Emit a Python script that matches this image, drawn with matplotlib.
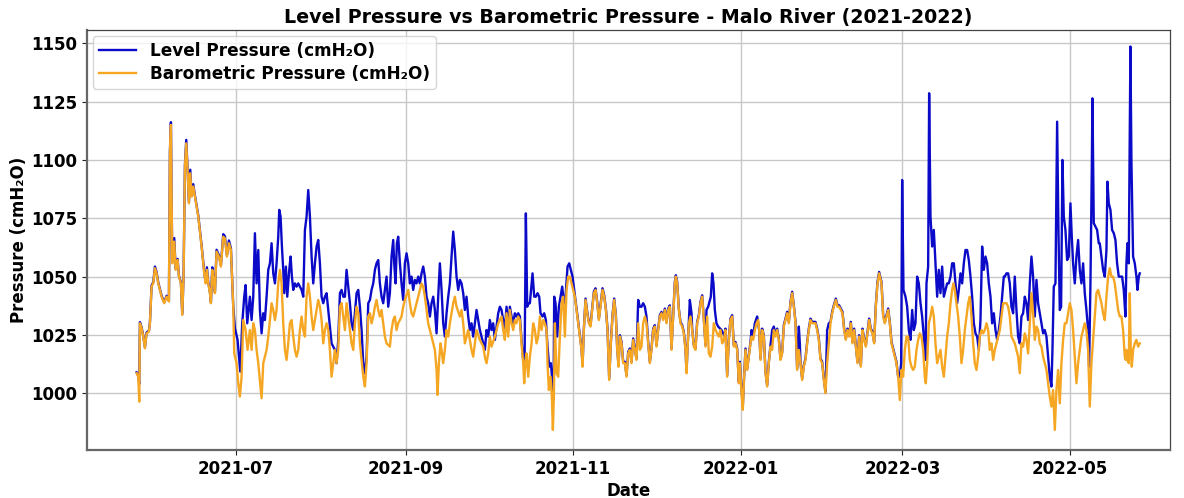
import matplotlib
matplotlib.use("Agg")
import matplotlib.pyplot as plt
import matplotlib.dates as mdates
import pandas as pd

# Days are counted from 2021-07-01; values are pressures in cmH2O.
START = pd.Timestamp("2021-07-01")

baro_days = [
    -36.04, -35.43, -35.07, -34.83, -34.22, -33.61, -33.00, -32.40, -31.55, -31.18,
    -30.58, -29.97, -29.36, -28.75, -28.15, -26.93, -25.96, -25.11, -24.26, -23.90,
    -23.53, -23.05, -22.32, -21.83, -21.10, -20.62, -19.89, -19.40, -18.92, -18.43,
    -17.95, -17.46, -16.97, -16.49, -16.00, -15.39, -14.79, -13.57, -12.36, -11.39,
    -10.90, -10.42, -9.93, -9.32, -8.96, -8.47, -7.99, -7.50, -6.90, -6.05,
    -5.32, -4.47, -3.86, -3.13, -2.40, -1.67, -0.82, -0.46, 0.39, 1.00,
    1.60, 2.21, 2.82, 3.67, 4.40,
    5.25, 5.86, 6.46, 7.07, 7.68, 8.29, 8.89, 9.50, 10.11, 10.71,
    11.32, 11.93, 12.54, 13.14, 13.75, 14.36, 14.96, 15.57, 16.18, 16.78,
    17.39, 18.00, 18.60, 19.21, 19.82, 20.43, 21.04, 21.64, 22.25, 22.86,
    23.46, 24.07, 24.68, 25.29, 25.89, 26.50, 27.11, 27.72, 28.32, 28.93,
    29.54, 30.14, 30.75, 31.36, 31.97, 32.57, 33.18, 33.79, 34.39, 35.00,
    35.61, 36.22, 36.82, 37.43, 38.04, 38.64, 39.25, 39.86, 40.46, 41.07,
    41.68, 42.29, 42.89, 43.50, 44.11, 44.72, 45.32, 45.93, 46.54, 47.14,
    47.75, 48.36, 48.97, 49.57, 50.18,
    50.78, 51.39, 51.99, 52.60, 53.21, 53.82, 54.42, 55.03, 56.24, 56.85,
    57.46, 58.07, 58.67, 59.28, 60.49, 61.10, 61.71, 62.92, 63.53, 64.14,
    64.74, 65.96, 67.17, 67.78, 68.39, 69.00, 69.60, 70.21, 71.42, 72.64,
    73.25, 73.61, 74.10, 74.70, 75.07, 75.67, 76.28, 76.89, 77.50, 78.10,
    79.32, 79.92, 80.53, 81.75, 82.35, 82.96, 83.57, 84.78, 86.00, 86.60,
    87.21, 87.82, 89.03, 90.25, 90.85, 91.46, 92.07, 92.67, 93.28, 94.50,
    95.71, 96.92,
    97.53, 98.14, 98.75, 99.36, 99.96, 100.57, 101.18, 101.78, 102.39, 103.00,
    103.61, 104.21, 104.82, 105.18, 105.67, 106.03, 106.64, 107.25, 107.86, 108.46,
    109.07, 109.68, 110.28, 110.89, 111.50, 112.11, 112.71, 113.32, 113.68, 114.17,
    114.78, 115.26, 115.63, 115.99, 116.36, 116.96, 117.57, 118.18, 118.79, 119.39,
    120.00, 120.61, 121.21, 121.82, 122.43, 123.04, 123.64, 124.25, 124.86, 125.46,
    126.07, 126.44, 126.92, 127.53, 128.14, 128.74, 129.35, 129.96, 130.56, 131.17,
    131.78, 132.39, 132.99, 133.72, 134.33, 134.94, 135.54, 136.15, 136.76, 137.36,
    137.97, 138.58, 139.07, 139.55, 140.04, 140.64, 141.25, 141.86,
    142.46, 143.06, 143.67, 144.28, 144.89, 145.49, 146.10, 146.71, 147.31, 147.92,
    148.53, 149.14, 149.74, 150.35, 150.96, 151.56, 152.17, 152.78, 153.39, 153.99,
    154.60, 155.21, 155.81, 156.42, 157.03, 157.64, 158.24, 158.85, 159.46, 160.07,
    160.43, 160.92, 161.52, 162.13, 162.74, 163.34, 163.95, 164.32, 164.68, 165.17,
    165.77, 166.38, 166.99, 167.59, 168.20, 168.81, 169.42, 170.02, 170.63, 171.24,
    171.84, 172.45, 173.06, 173.67, 174.27, 174.88, 175.49, 176.09, 176.70, 177.31,
    177.92, 178.52, 179.13, 179.74, 180.34, 180.95, 181.56, 182.17, 182.77, 183.38,
    183.74, 184.35, 184.84, 185.32, 185.81, 186.42, 187.02, 187.63,
    188.00, 188.60, 189.21, 189.82, 190.43, 190.79, 191.28, 191.88, 192.49, 193.10,
    193.70, 194.31, 194.92, 195.53, 196.13, 196.74, 197.35, 197.95, 198.56, 199.17,
    199.78, 200.38, 200.99, 201.60, 202.20, 202.81, 203.42, 204.03, 204.63, 205.24,
    205.85, 206.45, 207.06, 207.67, 208.28, 208.88, 209.49, 210.10, 210.70, 211.31,
    211.92, 212.53, 213.13, 213.74, 214.35, 214.95, 215.56, 216.17, 216.78, 217.38,
    217.99, 218.72, 219.33, 219.93, 220.54, 221.15, 221.75, 222.36, 222.97, 223.58,
    224.18, 224.79, 225.40, 226.00, 226.61, 227.22, 227.83, 228.43, 229.04, 229.65,
    230.26, 230.86, 231.47, 232.08, 232.68, 233.29, 233.90, 234.50,
    235.36, 235.97, 236.57, 237.18, 237.79, 238.39, 239.00, 239.61, 240.22, 240.82,
    241.43, 242.04, 242.64, 243.25, 243.86, 244.47, 245.07, 245.68, 246.29, 246.89,
    247.50, 248.11, 248.72, 249.32, 249.93, 250.54, 251.14, 251.51, 252.00, 252.60,
    253.21, 253.82, 254.42, 255.03, 255.64, 256.25, 256.85, 257.46, 258.07, 258.67,
    259.28, 259.89, 260.50, 261.10, 261.59, 262.07, 262.68, 263.29, 263.90, 264.50,
    265.11, 265.72, 266.32, 266.93, 267.54, 268.15, 268.75, 269.36, 269.97, 270.57,
    271.18, 271.79, 272.40, 273.00, 273.61, 274.22, 274.82, 275.43, 276.04, 276.65,
    277.25, 277.86, 278.47, 279.07, 279.68,
    280.89, 281.50, 282.10, 282.71, 283.32, 283.92, 284.53, 285.14, 285.75, 286.35,
    286.96, 287.57, 288.17, 288.78, 289.39, 290.00, 290.60, 291.21, 291.82, 292.42,
    293.03, 293.64, 294.25, 294.85, 295.46, 296.07, 296.67, 297.28, 297.89, 298.50,
    299.10, 299.71, 300.32, 300.92, 301.53, 302.14, 302.75, 303.35, 303.96, 304.57,
    305.17, 305.78, 306.39, 307.00, 307.60, 308.21, 308.82, 309.42, 310.03, 310.64,
    311.25, 311.85, 312.46, 313.07, 313.68, 314.28,
    314.89, 315.50, 316.10, 316.71, 317.32, 317.93, 318.53, 319.14, 319.75, 320.35,
    320.96, 321.57, 322.18, 322.78, 323.39, 324.00, 324.36, 324.60, 324.97, 325.45,
    325.82, 326.18, 326.55, 327.03, 327.64, 328.25, 328.85, 329.46,
]

baro_cmh2o = [
    1008.6, 1007.1, 996.4, 1030.0, 1027.9, 1024.3, 1019.3, 1025.7, 1026.4, 1030.0,
    1045.7, 1047.1, 1053.6, 1051.4, 1047.1, 1041.4, 1038.6, 1041.4, 1039.3, 1102.9,
    1115.0, 1055.7, 1065.0, 1052.9, 1057.1, 1050.0, 1047.1, 1033.6, 1050.0, 1097.1,
    1107.1, 1095.7, 1081.4, 1094.3, 1084.3, 1088.6, 1084.3, 1075.7, 1062.9, 1051.4,
    1047.1, 1052.9, 1047.1, 1042.9, 1038.6, 1052.9, 1048.6, 1042.9, 1060.7, 1058.6,
    1054.3, 1067.1, 1066.4, 1058.6, 1064.3, 1061.4, 1037.1, 1017.1, 1012.9, 1004.3,
    998.6, 1007.1, 1031.4, 1027.1, 1018.6,
    1027.1, 1018.6, 1030.0, 1027.1, 1018.6, 1012.9, 1005.7, 997.9, 1012.9, 1015.7,
    1018.6, 1024.3, 1031.4, 1038.6, 1035.7, 1031.4, 1035.7, 1047.1, 1052.9, 1047.1,
    1030.0, 1018.6, 1014.3, 1021.4, 1030.0, 1031.4, 1024.3, 1018.6, 1015.7, 1018.6,
    1027.1, 1032.9, 1027.1, 1024.3, 1041.4, 1047.1, 1041.4, 1032.9, 1027.1, 1031.4,
    1035.7, 1040.0, 1037.1, 1031.4, 1021.4, 1027.1, 1030.0, 1027.1, 1018.6, 1007.1,
    1012.9, 1018.6, 1012.9, 1018.6, 1037.1, 1038.6, 1032.9, 1027.1, 1038.6, 1032.9,
    1027.1, 1021.4, 1018.6, 1030.0, 1037.1, 1034.3, 1021.4, 1014.3, 1007.1, 1002.9,
    1012.9, 1032.9, 1034.3, 1030.0, 1032.9,
    1037.1, 1040.0, 1035.7, 1032.9, 1035.7, 1030.0, 1024.3, 1021.4, 1020.0, 1027.1,
    1031.4, 1032.9, 1027.1, 1030.0, 1032.9, 1037.1, 1040.0, 1044.3, 1038.6, 1034.3,
    1032.9, 1038.6, 1044.3, 1047.1, 1045.7, 1041.4, 1035.7, 1030.0, 1024.3, 1018.6,
    1010.0, 999.3, 1012.9, 1021.4, 1018.6, 1012.9, 1018.6, 1027.1, 1024.3, 1030.0,
    1038.6, 1041.4, 1037.1, 1032.9, 1035.7, 1030.0, 1021.4, 1027.1, 1018.6, 1015.7,
    1021.4, 1027.1, 1022.9, 1020.0, 1015.7, 1012.9, 1017.1, 1024.3, 1020.0, 1024.3,
    1030.0, 1032.9,
    1027.1, 1022.9, 1034.3, 1024.3, 1035.7, 1030.0, 1027.1, 1031.4, 1030.0, 1032.9,
    1031.4, 1021.4, 1012.9, 1004.3, 1014.3, 1017.1, 1007.1, 1015.7, 1021.4, 1030.0,
    1027.1, 1021.4, 1024.3, 1032.9, 1027.1, 1031.4, 1030.0, 1027.1, 1012.9, 1001.4,
    1007.1, 998.6, 984.3, 998.6, 1030.0, 1008.6, 1007.1, 1024.3, 1038.6, 1041.4,
    1024.3, 1044.3, 1050.0, 1050.0, 1047.1, 1044.3, 1041.4, 1035.7, 1030.0, 1024.3,
    1018.6, 1011.4, 1027.1, 1040.0, 1034.3, 1030.0, 1028.6, 1035.7, 1042.9, 1044.3,
    1038.6, 1031.4, 1037.1, 1044.3, 1041.4, 1035.7, 1027.1, 1005.7, 1021.4, 1032.9,
    1040.0, 1032.9, 1018.6, 1011.4, 1024.3, 1021.4, 1012.9, 1012.9,
    1007.1, 1017.1, 1018.6, 1012.9, 1022.9, 1018.6, 1014.3, 1030.0, 1018.6, 1020.0,
    1030.0, 1032.9, 1030.0, 1021.4, 1012.9, 1018.6, 1027.1, 1028.6, 1020.0, 1027.1,
    1032.9, 1034.3, 1031.4, 1035.7, 1030.0, 1035.7, 1037.1, 1018.6, 1032.9, 1047.1,
    1050.0, 1047.1, 1035.7, 1030.0, 1028.6, 1025.7, 1018.6, 1008.6, 1018.6, 1030.0,
    1032.9, 1027.1, 1020.0, 1018.6, 1030.0, 1032.9, 1038.6, 1041.4, 1031.4, 1020.0,
    1032.9, 1017.1, 1015.7, 1020.0, 1030.0, 1027.1, 1025.7, 1024.3, 1027.1, 1021.4,
    1022.9, 1027.1, 1007.1, 1022.9, 1031.4, 1032.9, 1020.0, 1021.4, 1018.6, 1004.3,
    1012.9, 1000.0, 992.9, 1007.1, 1018.6, 1010.0, 1015.7, 1021.4,
    1024.3, 1022.9, 1027.1, 1030.0, 1031.4, 1027.1, 1014.3, 1027.1, 1024.3, 1008.6,
    1002.9, 1012.9, 1020.0, 1018.6, 1027.1, 1024.3, 1027.1, 1022.9, 1014.3, 1017.1,
    1028.6, 1031.4, 1034.3, 1030.0, 1038.6, 1042.9, 1037.1, 1030.0, 1010.0, 1018.6,
    1012.9, 1005.7, 1011.4, 1014.3, 1021.4, 1027.1, 1031.4, 1030.0, 1030.0, 1030.0,
    1027.1, 1022.9, 1014.3, 1012.9, 1005.7, 1000.0, 1012.9, 1021.4, 1030.0, 1034.3,
    1037.1, 1040.0, 1037.1, 1037.1, 1035.7, 1034.3, 1027.1, 1022.9, 1027.1, 1024.3,
    1030.0, 1021.4, 1027.1, 1020.0, 1012.9, 1024.3, 1011.4, 1027.1, 1022.9, 1020.0,
    1025.7, 1031.4, 1027.1, 1025.7, 1021.4, 1037.1, 1047.1, 1051.4,
    1047.1, 1032.9, 1030.0, 1032.9, 1035.7, 1030.0, 1021.4, 1018.6, 1015.7, 1012.9,
    1007.1, 997.1, 1010.0, 1007.1, 1018.6, 1024.3, 1024.3, 1014.3, 1011.4, 1010.0,
    1011.4, 1018.6, 1022.9, 1025.7, 1024.3, 1018.6, 1007.1, 1004.3, 1012.9, 1030.0,
    1032.9, 1037.1, 1032.9, 1021.4, 1012.9, 1015.7, 1018.6, 1011.4, 1007.1, 1015.7,
    1024.3, 1030.0, 1038.6, 1044.3, 1047.1, 1044.3, 1038.6, 1032.9, 1024.3, 1012.9,
    1018.6, 1027.1, 1032.9, 1038.6, 1041.4, 1032.9, 1021.4, 1012.9, 1010.0, 1015.7,
    1024.3, 1027.1, 1025.7, 1027.1, 1030.0, 1027.1, 1018.6, 1021.4, 1014.3, 1018.6,
    1021.4, 1024.3, 1027.1, 1032.9, 1038.6,
    1038.6, 1037.1, 1032.9, 1024.3, 1022.9, 1021.4, 1018.6, 1015.7, 1008.6, 1021.4,
    1020.0, 1025.7, 1022.9, 1017.1, 1030.0, 1042.9, 1034.3, 1022.9, 1028.6, 1027.1,
    1021.4, 1020.0, 1015.7, 1012.9, 1010.0, 1004.3, 998.6, 994.3, 1001.4, 984.3,
    1001.4, 1010.0, 995.7, 1012.9, 1022.9, 1030.0, 1030.0, 1034.3, 1038.6, 1035.7,
    1027.1, 1015.7, 1004.3, 1012.9, 1018.6, 1024.3, 1027.1, 1030.0, 1027.1, 1018.6,
    994.3, 1012.9, 1022.9, 1032.9, 1042.9, 1044.3,
    1041.4, 1038.6, 1034.3, 1031.4, 1041.4, 1050.0, 1053.6, 1050.0, 1050.0, 1047.1,
    1041.4, 1035.7, 1032.9, 1032.9, 1027.1, 1015.7, 1014.3, 1018.6, 1014.3, 1012.9,
    1042.9, 1018.6, 1011.4, 1018.6, 1021.4, 1022.9, 1020.0, 1021.4,
]

level_days = [
    -36.04, -35.43, -35.07, -34.83, -34.22, -33.61, -33.00, -32.40, -31.55, -31.18,
    -30.58, -29.97, -29.36, -28.75, -28.15, -26.93, -25.96, -25.11, -24.26, -23.90,
    -23.53, -23.05, -22.32, -21.83, -21.10, -20.62, -19.89, -19.40, -18.92, -18.43,
    -17.95, -17.46, -16.97, -16.49, -16.00, -15.39, -14.79, -13.57, -12.36, -11.39,
    -10.90, -10.42, -9.93, -9.32, -8.96, -8.47, -7.99, -7.50, -6.90, -6.05,
    -5.32, -4.47, -3.86, -3.13, -2.40, -1.67, -0.82, -0.22, 0.75, 1.73,
    2.45, 3.18, 3.67, 4.27,
    5.25, 5.86, 6.46, 7.07, 7.68, 8.29, 8.89, 9.50, 10.11, 10.71,
    11.32, 11.93, 12.54, 13.14, 13.75, 14.36, 14.96, 15.57, 15.94, 16.42,
    16.91, 17.39, 17.76, 18.36, 18.85, 19.58, 20.07, 20.55, 21.04, 21.64,
    22.25, 22.86, 23.46, 24.07, 24.68, 25.29, 25.89, 26.50, 27.11, 27.72,
    28.32, 28.93, 29.54, 30.14, 30.75, 31.36, 31.97, 32.57, 33.18, 33.79,
    34.39, 35.00, 35.61, 36.22, 36.82, 37.43, 38.04, 38.64, 39.25, 39.86,
    40.46, 41.07, 41.68, 42.29, 42.89, 43.50, 44.11, 44.72, 45.32, 45.93,
    46.54, 47.14, 47.75, 48.36, 48.97, 49.57, 50.18, 50.79, 51.39, 52.00,
    52.60, 53.21, 53.82, 54.42, 55.03, 55.64, 56.24, 56.85, 57.46, 57.82,
    58.31, 58.79, 59.28, 59.89, 60.49, 61.10, 61.71, 62.32, 62.92, 63.53,
    64.14, 64.74, 65.35, 65.96, 66.57, 67.17, 67.78, 68.39, 69.00, 69.60,
    70.21, 70.82, 71.42, 72.03, 72.64, 73.25, 73.85, 74.46, 75.07, 75.67,
    76.28, 76.89, 77.50, 78.10, 78.71, 79.32, 79.92, 80.53, 81.14, 81.75,
    82.35, 82.96, 83.57, 84.17, 84.78, 85.39, 86.00, 86.60, 87.21, 87.82,
    88.42, 89.03, 89.64, 90.25, 90.85, 91.46, 92.07, 92.67, 93.28, 93.89,
    94.50, 95.10, 95.71, 96.32, 96.92,
    97.53, 98.14, 98.75, 99.36, 99.96, 100.57, 101.18, 101.78, 102.39, 103.00,
    103.61, 104.21, 104.82, 105.31, 105.79, 106.28, 106.76, 107.25, 108.22, 108.83,
    109.44, 110.04, 110.65, 111.13, 111.86, 112.47, 113.08, 113.68, 114.29, 114.90,
    115.51, 115.87, 116.11, 116.60, 117.21, 117.81, 118.42, 119.03, 119.64, 120.24,
    120.97, 121.58, 122.19, 122.79, 123.40,
    123.64, 124.25, 124.86, 125.46, 126.07, 126.44, 126.92, 127.53, 128.14, 128.74,
    129.35, 129.96, 130.56, 131.17, 131.78, 132.39, 132.99, 133.72, 134.33, 134.94,
    135.54, 136.15, 136.76, 137.36, 137.97, 138.58, 139.07, 139.55, 140.04, 140.64,
    141.25, 141.86, 142.46, 143.06, 143.67, 144.28, 144.89, 145.49, 146.10, 146.71,
    147.31, 147.92, 148.53, 149.14, 149.74, 150.35, 150.96, 151.56, 152.17, 152.78,
    153.39, 153.99, 154.60, 155.21, 155.81, 156.42, 157.03, 157.64, 158.24, 158.85,
    159.46, 160.07, 160.43, 160.92, 161.52, 162.13, 162.74, 163.34, 163.95, 164.32,
    164.68, 165.17, 165.53, 166.14, 166.38, 166.99, 167.59, 168.20, 168.81, 169.42,
    170.02, 170.63, 171.24, 171.60, 172.21, 173.18, 173.67, 174.15, 174.64, 175.24,
    175.85, 177.07, 178.28, 178.52, 179.13, 179.74, 180.34, 180.95, 181.56, 182.17,
    182.77, 183.38, 183.74, 184.35, 184.84, 185.32, 185.81, 186.42, 187.02, 187.63,
    188.00, 188.60, 189.21, 190.06, 190.79, 191.28, 191.88, 192.49, 193.10, 193.70,
    194.31, 194.92, 195.53, 196.13, 196.74, 197.35, 197.95, 198.56, 199.17, 199.78,
    200.38, 200.99, 201.60, 202.20, 202.81, 203.42, 204.03, 204.63, 205.24, 205.60,
    205.85, 206.45, 207.06, 207.67, 208.28, 208.88, 209.49, 210.10, 210.70, 211.31,
    211.92, 212.53, 213.13, 213.74, 214.35, 214.95, 215.56, 216.17, 216.78, 217.38,
    217.99, 218.72, 219.33, 219.93, 220.54, 221.15, 221.75, 222.36, 222.97, 223.58,
    224.18, 224.79, 225.40, 226.00, 226.61, 227.22, 227.83, 228.43, 229.04, 229.65,
    230.26, 230.86, 231.47, 232.08, 232.68, 233.29, 233.90, 234.50, 235.36, 235.97,
    236.57, 237.18, 237.79, 238.39, 239.00, 239.61, 240.22, 240.82, 241.43, 242.04,
    242.52, 242.89, 243.37, 244.10, 244.71, 245.32, 245.92, 246.53, 247.14, 247.74,
    248.35, 248.96, 249.57, 250.17, 250.78, 251.39, 251.75, 252.36, 252.72, 253.21,
    253.82, 254.42, 255.03, 255.64, 256.25, 256.85, 257.46, 258.07, 258.67, 259.28,
    259.89, 260.50, 261.10, 261.71, 262.32, 262.93, 263.53, 264.14, 264.75, 265.35,
    265.96, 266.57, 267.17, 267.78, 268.39, 269.00, 269.60, 270.21, 270.82, 271.42,
    272.03, 272.64, 273.25, 273.85, 274.46, 275.07, 275.67, 276.28, 276.89, 277.50,
    278.10, 278.71, 279.32, 279.92,
    280.28, 280.89, 281.50, 282.10, 282.71, 283.32, 283.92, 284.53, 285.14, 285.75,
    286.35, 286.96, 287.57, 288.17, 288.78, 289.39, 290.00, 290.60, 291.21, 291.82,
    292.42, 293.03, 293.64, 294.25, 294.85, 295.46, 296.07, 296.67, 297.28, 297.65,
    298.13, 298.74, 299.35, 299.83, 300.32, 300.80, 301.29, 301.78, 302.38, 302.99,
    303.60, 304.20, 304.69, 305.17, 305.78, 306.39, 307.00, 307.60, 308.21, 308.82,
    309.42, 310.03, 310.64, 311.00, 311.49, 311.98, 312.22, 312.70, 313.31, 313.92,
    314.52,
    314.89, 315.50, 316.10, 316.71, 317.32, 317.68, 318.17, 318.78, 319.38, 319.99,
    320.60, 321.20, 321.81, 322.42, 323.03, 323.63, 324.24, 324.60, 324.97, 325.45,
    325.82, 326.06, 326.43, 327.03, 327.64, 328.25, 328.61, 329.10, 329.46,
]

level_cmh2o = [
    1009.0, 1007.5, 1004.0, 1030.5, 1028.3, 1024.7, 1019.7, 1026.1, 1026.8, 1030.4,
    1046.2, 1047.6, 1054.3, 1051.9, 1047.5, 1041.8, 1039.0, 1041.8, 1039.7, 1103.5,
    1116.2, 1056.2, 1066.5, 1053.4, 1057.6, 1050.4, 1047.5, 1034.0, 1050.4, 1097.8,
    1108.6, 1096.3, 1081.9, 1095.8, 1084.8, 1089.6, 1084.8, 1076.2, 1063.4, 1052.0,
    1047.6, 1054.0, 1047.6, 1043.4, 1039.1, 1054.0, 1049.1, 1043.4, 1061.5, 1059.2,
    1054.9, 1068.2, 1067.3, 1059.2, 1065.5, 1062.1, 1037.1, 1027.9, 1022.9, 1009.3,
    1030.0, 1041.4, 1046.4, 1030.0,
    1041.4, 1031.4, 1041.4, 1068.6, 1047.1, 1061.4, 1035.7, 1025.7, 1034.3, 1031.4,
    1041.4, 1052.9, 1055.7, 1064.3, 1051.4, 1047.1, 1055.7, 1067.1, 1078.6, 1075.7,
    1062.9, 1052.9, 1042.9, 1054.3, 1041.4, 1052.9, 1058.6, 1050.0, 1044.3, 1047.1,
    1045.7, 1047.1, 1045.7, 1044.3, 1041.4, 1070.0, 1075.7, 1087.1, 1075.7, 1058.6,
    1047.1, 1055.7, 1062.9, 1065.7, 1055.7, 1041.4, 1038.6, 1041.4, 1042.9, 1035.7,
    1028.6, 1021.4, 1020.0, 1018.6, 1012.9, 1022.9, 1042.9, 1044.3, 1041.4, 1041.4,
    1052.9, 1045.7, 1038.6, 1030.0, 1027.1, 1034.3, 1042.9, 1044.3, 1037.1, 1027.1,
    1012.9, 1008.6, 1015.7, 1038.6, 1040.0, 1044.3, 1047.1, 1052.9, 1055.7, 1057.1,
    1047.1, 1041.4, 1038.6, 1044.3, 1050.0, 1037.1, 1042.9, 1058.6, 1065.7, 1055.7,
    1047.1, 1064.3, 1067.1, 1055.7, 1047.1, 1040.0, 1055.7, 1060.0, 1055.7, 1047.1,
    1050.0, 1044.3, 1048.6, 1047.1, 1050.0, 1047.1, 1051.4, 1054.3, 1050.0, 1041.4,
    1038.6, 1032.9, 1038.6, 1041.4, 1035.7, 1025.7, 1041.4, 1055.7, 1044.3, 1030.0,
    1024.3, 1034.3, 1041.4, 1047.1, 1058.6, 1069.3, 1061.4, 1050.0, 1044.3, 1048.6,
    1047.1, 1042.9, 1035.7, 1041.4, 1032.9, 1027.1, 1030.0, 1024.3, 1030.0, 1035.7,
    1031.4, 1027.1, 1024.3, 1021.4, 1018.6, 1027.1, 1024.3, 1031.4, 1027.1, 1030.0,
    1022.9, 1028.6, 1034.3, 1037.1, 1035.7,
    1031.4, 1027.1, 1037.1, 1027.1, 1037.1, 1032.9, 1030.0, 1034.3, 1032.9, 1034.3,
    1032.9, 1022.9, 1014.3, 1011.4, 1077.1, 1037.1, 1038.6, 1038.6, 1051.4, 1041.4,
    1041.4, 1042.9, 1041.4, 1034.3, 1032.9, 1034.3, 1031.4, 1020.0, 1011.4, 1012.9,
    1004.3, 997.1, 1041.4, 1038.6, 1024.3, 1037.1, 1041.4, 1045.7, 1038.6, 1041.4,
    1054.3, 1055.7, 1052.9, 1050.0, 1044.3,
    1042.0, 1036.3, 1030.6, 1024.9, 1019.2, 1012.0, 1027.7, 1040.6, 1034.9, 1030.6,
    1029.2, 1036.3, 1043.5, 1045.0, 1039.2, 1032.0, 1037.7, 1045.0, 1042.0, 1036.3,
    1027.7, 1006.3, 1022.0, 1033.5, 1040.6, 1033.5, 1019.2, 1012.0, 1024.9, 1022.0,
    1013.5, 1013.5, 1007.7, 1017.7, 1019.2, 1013.5, 1023.5, 1019.2, 1014.9, 1040.0,
    1037.1, 1037.1, 1038.6, 1037.1, 1032.9, 1022.0, 1013.5, 1019.2, 1027.7, 1029.2,
    1020.6, 1027.7, 1033.5, 1034.9, 1032.0, 1036.3, 1030.6, 1036.3, 1037.7, 1019.2,
    1033.5, 1047.7, 1050.6, 1047.7, 1036.3, 1030.6, 1029.2, 1026.3, 1019.2, 1009.2,
    1019.2, 1030.6, 1040.0, 1034.3, 1027.7, 1020.6, 1019.2, 1030.6, 1033.5, 1039.2,
    1042.0, 1032.0, 1020.6, 1035.7, 1037.1, 1041.4, 1051.4, 1047.1, 1035.7, 1030.0,
    1028.6, 1027.1, 1024.3, 1027.7, 1007.7, 1023.5, 1032.0, 1033.5, 1020.6, 1022.0,
    1019.2, 1004.9, 1013.5, 1002.0, 995.0, 1007.7, 1019.2, 1010.6, 1016.3, 1022.0,
    1027.1, 1024.3, 1030.0, 1032.9, 1027.1, 1014.9, 1027.7, 1024.9, 1009.2, 1003.5,
    1013.5, 1020.6, 1027.1, 1028.6, 1024.9, 1027.7, 1023.5, 1014.9, 1017.7, 1029.2,
    1032.0, 1034.9, 1030.6, 1039.2, 1043.5, 1037.7, 1030.6, 1010.6, 1028.6, 1021.4,
    1013.5, 1006.3, 1012.0, 1014.9, 1022.0, 1027.7, 1032.0, 1030.6, 1030.6, 1030.6,
    1027.7, 1023.5, 1014.9, 1013.5, 1006.3, 1000.6, 1027.1, 1030.0, 1030.6, 1034.9,
    1037.7, 1040.6, 1037.7, 1037.7, 1036.3, 1034.9, 1027.7, 1023.5, 1027.7, 1024.9,
    1030.6, 1022.0, 1027.7, 1020.6, 1013.5, 1024.9, 1012.0, 1027.7, 1023.5, 1020.6,
    1026.3, 1032.0, 1027.7, 1026.3, 1022.0, 1037.7, 1047.7, 1052.0, 1047.7, 1033.5,
    1030.6, 1033.5, 1036.3, 1030.6, 1022.0, 1019.2, 1016.3, 1013.5, 1007.1, 1007.1,
    1012.9, 1091.4, 1044.3, 1041.4, 1037.1, 1027.1, 1022.9, 1035.7, 1027.1, 1030.0,
    1050.0, 1047.1, 1038.6, 1032.9, 1024.3, 1014.3, 1047.1, 1054.3, 1128.6, 1075.7,
    1062.9, 1070.0, 1055.7, 1041.4, 1052.9, 1042.9, 1054.3, 1041.4, 1044.3, 1047.1,
    1047.1, 1050.0, 1055.7, 1055.7, 1047.1, 1038.6, 1044.3, 1051.4, 1047.1, 1055.7,
    1061.4, 1061.4, 1057.1, 1050.0, 1041.4, 1030.0, 1025.7, 1024.3, 1018.6, 1031.4,
    1062.9, 1052.9, 1058.6, 1055.7, 1047.1, 1041.4, 1030.0, 1034.3, 1027.1, 1022.9,
    1027.1, 1032.9, 1041.4, 1050.0,
    1050.0, 1051.4, 1051.4, 1047.1, 1037.1, 1034.3, 1050.0, 1035.7, 1024.3, 1021.4,
    1032.9, 1034.3, 1041.4, 1038.6, 1031.4, 1047.1, 1058.6, 1050.0, 1032.9, 1048.6,
    1038.6, 1034.3, 1030.0, 1025.7, 1027.1, 1024.3, 1015.7, 1007.1, 1002.9, 1018.6,
    1045.7, 1047.1, 1116.4, 1070.0, 1035.7, 1037.1, 1100.0, 1075.7, 1070.0, 1057.1,
    1058.6, 1081.4, 1067.1, 1055.7, 1047.1, 1058.6, 1065.7, 1052.9, 1047.1, 1055.7,
    1042.9, 1035.7, 1027.1, 1011.4, 1047.1, 1095.7, 1126.4, 1072.9, 1071.4, 1070.0,
    1064.3,
    1064.3, 1058.6, 1052.9, 1050.0, 1061.4, 1090.7, 1081.4, 1078.6, 1070.0, 1068.6,
    1065.7, 1055.7, 1050.0, 1050.0, 1050.0, 1044.3, 1032.9, 1055.7, 1064.3, 1055.7,
    1112.9, 1148.6, 1098.6, 1058.6, 1055.7, 1050.0, 1044.3, 1050.0, 1051.4,
]

LEVEL_COLOR = "#0a0ac8"
BARO_COLOR = "#F5A623"

plt.rcParams["font.family"] = ["DejaVu Sans"]
plt.rcParams["font.weight"] = "bold"

level_dates = START + pd.to_timedelta(level_days, unit="D")
baro_dates = START + pd.to_timedelta(baro_days, unit="D")

fig = plt.figure(figsize=(11.84, 4.98), dpi=100)
ax = fig.add_axes([0.0735, 0.0964, 0.9145, 0.8434])

ax.plot(level_dates, level_cmh2o, color=LEVEL_COLOR, lw=1.7,
        label="Level Pressure (cmH\u2082O)")
ax.plot(baro_dates, baro_cmh2o, color=BARO_COLOR, lw=1.7,
        label="Barometric Pressure (cmH\u2082O)")

ax.set_xlim(START + pd.Timedelta(days=-54.1), START + pd.Timedelta(days=340.4))
ax.set_ylim(975.7, 1155.7)
ax.set_yticks([1000, 1025, 1050, 1075, 1100, 1125, 1150])
ax.xaxis.set_major_locator(mdates.MonthLocator(bymonth=[1, 3, 5, 7, 9, 11]))
ax.xaxis.set_major_formatter(mdates.DateFormatter("%Y-%m"))

ax.grid(True, color="#c8c8c8", lw=1.0)
ax.set_axisbelow(True)
for side in ("left", "bottom"):
    ax.spines[side].set_color("#666666")
    ax.spines[side].set_linewidth(1.6)
for side in ("top", "right"):
    ax.spines[side].set_color("#444444")
    ax.spines[side].set_linewidth(0.9)

ax.tick_params(axis="both", labelsize=12, colors="#222222", labelcolor="black")
for lbl in ax.get_xticklabels() + ax.get_yticklabels():
    lbl.set_fontweight("bold")

ax.set_title("Level Pressure vs Barometric Pressure - Malo River (2021-2022)",
             fontsize=13.7, fontweight="bold", pad=5)
ax.set_xlabel("Date", fontsize=12, fontweight="bold", labelpad=3)
ax.set_ylabel("Pressure (cmH\u2082O)", fontsize=12, fontweight="bold", labelpad=2)

leg = ax.legend(loc="upper left", prop={"weight": "bold", "size": 12.2},
                framealpha=0.8, borderaxespad=0.35, borderpad=0.35,
                labelspacing=0.3, handlelength=2.2)

fig.savefig("out.png", dpi=100)
